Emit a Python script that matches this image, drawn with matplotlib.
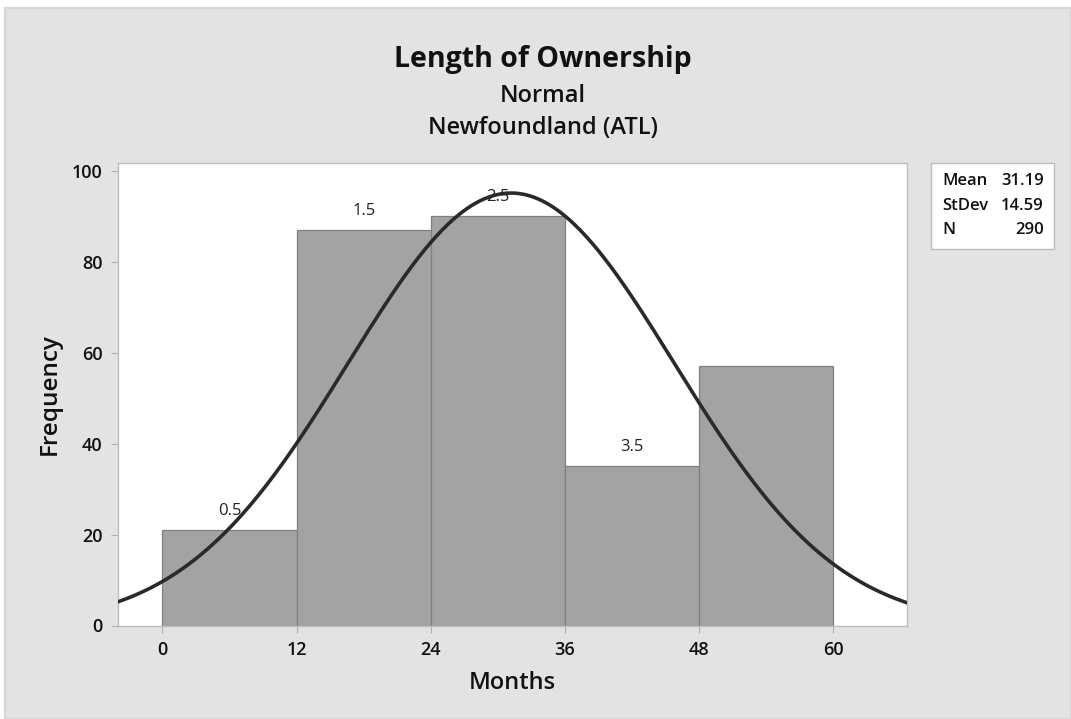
import numpy as np
import matplotlib
matplotlib.use("Agg")
import matplotlib.pyplot as plt
from matplotlib.patches import Rectangle

# Histogram data: bin edges (months) and counts
bin_edges = [0, 12, 24, 36, 48, 60]
counts = [21, 87, 90, 35, 57]
bar_labels = ["0.5", "1.5", "2.5", "3.5", ""]
x_ticks = [0, 12, 24, 36, 48, 60]
y_ticks = [0, 20, 40, 60, 80, 100]

# Fitted normal distribution
mean = 31.19
stdev = 14.59
n_obs = 290

plt.rcParams["font.family"] = ["Open Sans", "DejaVu Sans"]

fig = plt.figure(figsize=(10.71, 7.19), dpi=100, facecolor="white")
# grey backdrop panel behind everything
backdrop = Rectangle((5 / 1071, 0), 1 - 5 / 1071, 1 - 8 / 719,
                     transform=fig.transFigure, facecolor="#e3e3e3",
                     edgecolor="#d6d6d6", linewidth=1.5, zorder=-10)
fig.add_artist(backdrop)

ax = fig.add_axes([117.7 / 1071, 1 - 625.5 / 719, (907 - 117.7) / 1071, (625.5 - 163.3) / 719])
ax.set_facecolor("white")

widths = np.diff(bin_edges)
lefts = np.array(bin_edges[:-1])
bars = ax.bar(lefts, counts, width=widths, align="edge", color="#a3a3a3",
              edgecolor="#808080", linewidth=0.9, zorder=2)

for b, lab in zip(bars, bar_labels):
    if lab:
        ax.annotate(lab, (b.get_x() + b.get_width() / 2, b.get_height()),
                    xytext=(0, 19), textcoords="offset pixels",
                    ha="center", va="center", fontsize=12, color="#222222", zorder=4)

xmin, xmax = -4.0, 66.6
xs = np.linspace(xmin, xmax, 400)
binw = bin_edges[1] - bin_edges[0]
pdf = n_obs * binw / (stdev * np.sqrt(2 * np.pi)) * np.exp(-0.5 * ((xs - mean) / stdev) ** 2)
ax.plot(xs, pdf, color="#2a2a2a", linewidth=2.6, zorder=3, solid_capstyle="round")

ax.set_xlim(xmin, xmax)
ax.set_ylim(0, 101.7)
ax.set_xticks(x_ticks)
ax.set_yticks(y_ticks)
ax.tick_params(axis="both", direction="out", length=5, width=0.8, color="#b0b0b0",
               labelsize=13, labelcolor="#111111", pad=6)
for lbl in ax.get_xticklabels() + ax.get_yticklabels():
    lbl.set_fontweight("semibold")
for s in ax.spines.values():
    s.set_color("#bdbdbd")
    s.set_linewidth(1.0)

ax.set_xlabel("Months", fontsize=17, fontweight="semibold", color="#111111", labelpad=9)
ax.set_ylabel("Frequency", fontsize=17.5, fontweight="semibold", color="#111111", labelpad=7)

# titles
fig.text(543 / 1071, 1 - 60 / 719, "Length of Ownership", ha="center", va="center",
         fontsize=20.5, fontweight="bold", color="#111111")
fig.text(543 / 1071, 1 - 96 / 719, "Normal", ha="center", va="center",
         fontsize=17, fontweight="semibold", color="#111111")
fig.text(543 / 1071, 1 - 128 / 719, "Newfoundland (ATL)", ha="center", va="center",
         fontsize=17, fontweight="semibold", color="#111111")

# statistics box
bx0, bx1 = 931 / 1071, 1054 / 1071
by0, by1 = 1 - 249 / 719, 1 - 163.3 / 719
fig.add_artist(Rectangle((bx0, by0), bx1 - bx0, by1 - by0, transform=fig.transFigure,
                         facecolor="white", edgecolor="#bdbdbd", linewidth=1.0, zorder=1))
stats = [("Mean", f"{mean:.2f}"), ("StDev", f"{stdev:.2f}"), ("N", f"{n_obs}")]
for i, (k, v) in enumerate(stats):
    yy = 1 - (181 + i * 24.5) / 719
    fig.text(942 / 1071, yy, k, ha="left", va="center", fontsize=12,
             fontweight="semibold", color="#111111", zorder=2)
    fig.text(1044 / 1071, yy, v, ha="right", va="center", fontsize=12,
             fontweight="semibold", color="#111111", zorder=2)

fig.savefig("out.png", dpi=100, facecolor=fig.get_facecolor())
